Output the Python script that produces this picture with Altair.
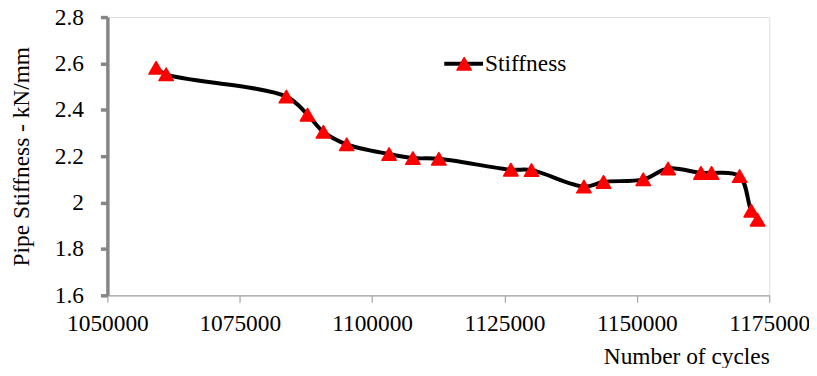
import altair as alt
import pandas as pd

cycles = [1059200, 1061100, 1083800, 1087800, 1090800, 1095200, 1103200, 1107700,
          1112600, 1126200, 1130100, 1140000, 1143700, 1151200, 1155900, 1162100,
          1164100, 1169400, 1171600, 1172800]
stiffness = [2.581, 2.553, 2.457, 2.379, 2.305, 2.251, 2.209, 2.192,
             2.189, 2.142, 2.140, 2.069, 2.089, 2.100, 2.147, 2.128,
             2.128, 2.114, 1.965, 1.926]
x_ticks = [1050000, 1075000, 1100000, 1125000, 1150000, 1175000]
y_ticks = [1.6, 1.8, 2.0, 2.2, 2.4, 2.6, 2.8]
series_name = "Stiffness"

df = pd.DataFrame({"cycles": cycles, "stiffness": stiffness})

FONT = "Liberation Serif"
FS = 23.5
W, H = 666, 280

x_enc = alt.X("cycles:Q",
              scale=alt.Scale(domain=[1050000, 1175000], nice=False, zero=False),
              axis=alt.Axis(values=x_ticks, format="d", grid=False,
                            title="Number of cycles", titleAnchor="end",
                            titleFont=FONT, titleFontSize=FS, titleFontWeight="normal",
                            titleColor="black", titlePadding=10,
                            labelFont=FONT, labelFontSize=FS, labelColor="black",
                            labelPadding=9, labelFlush=False,
                            domainColor="#a6a6a6", domainWidth=1.2,
                            tickColor="#a6a6a6", tickWidth=1.2, tickSize=7))
y_enc = alt.Y("stiffness:Q",
              scale=alt.Scale(domain=[1.6, 2.8], nice=False, zero=False),
              axis=alt.Axis(values=y_ticks, format="~g", grid=False,
                            title="Pipe Stiffness - kN/mm",
                            titleFont=FONT, titleFontSize=FS, titleFontWeight="normal",
                            titleColor="black", titlePadding=21,
                            labelFont=FONT, labelFontSize=FS, labelColor="black",
                            labelPadding=17, labelFlush=False,
                            domainColor="#868686", domainWidth=3.5,
                            tickColor="#868686", tickWidth=3.5, tickSize=7))

line = alt.Chart(df).mark_line(color="black", strokeWidth=4, interpolate="catmull-rom").encode(
    x=x_enc, y=y_enc)
pts = alt.Chart(df).mark_point(shape="triangle-up", filled=True, fill="#ff0000",
                               stroke="#ff0000", strokeWidth=1.5, strokeJoin="round",
                               size=210, opacity=1).encode(
    x="cycles:Q", y="stiffness:Q")

leg_df = pd.DataFrame({"label": [series_name]})
leg_line = alt.Chart(leg_df).mark_rule(color="black", strokeWidth=4).encode(
    x=alt.value(339), x2=alt.value(378), y=alt.value(47))
leg_pt = alt.Chart(leg_df).mark_point(shape="triangle-up", filled=True, fill="#ff0000",
                                      stroke="#ff0000", strokeWidth=1.5, strokeJoin="round",
                                      size=210, opacity=1).encode(
    x=alt.value(359), y=alt.value(47))
leg_txt = alt.Chart(leg_df).mark_text(font=FONT, fontSize=FS, align="left",
                                      baseline="middle", color="black").encode(
    x=alt.value(380), y=alt.value(47), text="label:N")

chart = alt.layer(line, pts, leg_line, leg_pt, leg_txt).properties(
    width=W, height=H,
    padding={"left": 100, "top": 8, "right": 40, "bottom": 72},
    autosize=alt.AutoSizeParams(type="none"),
).configure_view(stroke=None).configure(background="white")

chart.save("out.html", embed_options={"renderer": "svg", "actions": False})
